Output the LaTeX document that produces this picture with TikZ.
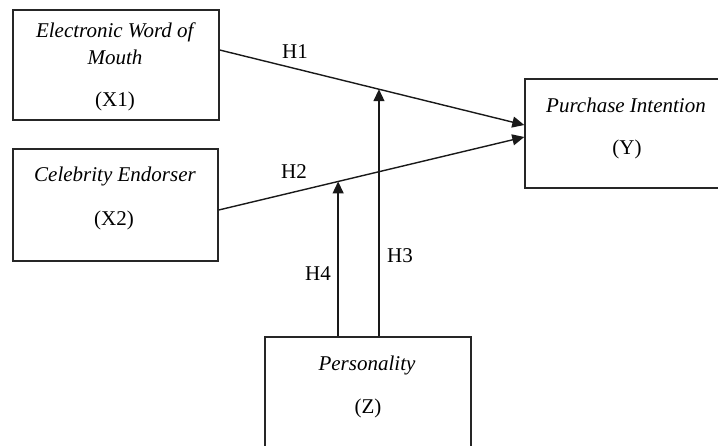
\documentclass[tikz,border=0pt]{standalone}
\usepackage{fontspec}
\setmainfont{Liberation Serif}
\usetikzlibrary{arrows.meta,calc}
\begin{document}
\begin{tikzpicture}[x=1pt,y=-1pt,
  box/.style={draw=black!85, line width=1.4pt, rectangle, inner sep=0pt},
  lbl/.style={inner sep=0pt, anchor=base, font=\fontsize{21}{25}\selectfont},
  arr/.style={draw=black!90, line width=1.4pt, -{Triangle[length=12pt,width=11pt]}}]
\useasboundingbox (0,0) rectangle (718,445);
\clip (0,0) rectangle (718,445);
\fill[white] (0,0) rectangle (718,445);
% boxes
\node[box, minimum width=206pt, minimum height=110pt] (x1) at (116,65) {};
\node[box, minimum width=205pt, minimum height=112pt] (x2) at (115.5,205) {};
\node[box, minimum width=204pt, minimum height=109pt] (y) at (627,133.5) {};
\node[box, minimum width=206pt, minimum height=122pt] (z) at (368,398) {};
% texts
\node[lbl] (x1a) at (116,37) {\textit{Electronic Word of}};
\node[lbl] (x1b) at (115,64) {\textit{Mouth}};
\node[lbl] (x1c) at (115,106) {(X1)};
\node[lbl] (x2a) at (115,181) {\textit{Celebrity Endorser}};
\node[lbl] (x2b) at (114,225) {(X2)};
\node[lbl] (ya) at (626,112) {\textit{Purchase Intention}};
\node[lbl] (yb) at (627,154) {(Y)};
\node[lbl] (za) at (367,370) {\textit{Personality}};
\node[lbl] (zb) at (368,413) {(Z)};
% connector end points
\coordinate (h1s) at ([yshift=15pt]x1.east);
\coordinate (h1e) at ([yshift=8.5pt]y.west);
\coordinate (h2s) at ([yshift=-5pt]x2.east);
\coordinate (h2e) at ([yshift=-3.5pt]y.west);
\coordinate (m1) at ($(h1s)!{(379-219)/306}!(h1e)$);
\coordinate (m2) at ($(h2s)!{(338-218)/307}!(h2e)$);
% connectors
\draw[arr] (h1s) -- (h1e);
\draw[arr] (h2s) -- (h2e);
\draw[arr] (m1 |- z.north) -- (m1);
\draw[arr] (m2 |- z.north) -- (m2);
% hypothesis labels
\node[lbl] (h1) at (295,58) {H1};
\node[lbl] (h2) at (294,178) {H2};
\node[lbl] (h3) at (400,262) {H3};
\node[lbl] (h4) at (318,280) {H4};
\end{tikzpicture}
\end{document}
